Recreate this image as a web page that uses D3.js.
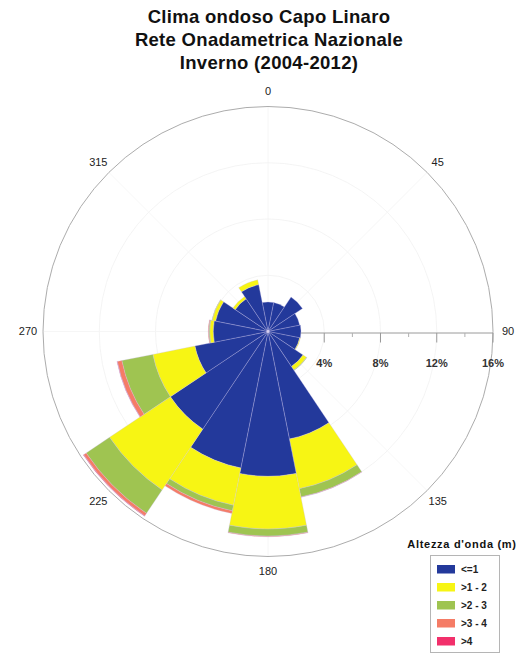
<!DOCTYPE html>
<html>
<head>
<meta charset="utf-8">
<script src="https://cdn.jsdelivr.net/npm/d3@7"></script>
<style>
  body { margin: 0; background: #fff; }
  svg { display: block; font-family: 'Liberation Sans', Arial, sans-serif; }
</style>
</head>
<body>
<div id="chart"></div>
<script>
/* Data (percent of observations per direction sector) */
const directions = [0, 22.5, 45, 67.5, 90, 112.5, 135, 157.5, 180, 202.5, 225, 247.5, 270, 292.5, 315, 337.5];
const h_le1  = [2.1, 2.1, 2.95, 2.3, 2.35, 2.3, 3.0, 7.8, 10.3, 9.9, 8.35, 5.3, 3.9, 3.8, 2.8, 3.4];
const h_1_2  = [0, 0, 0, 0, 0, 0.05, 0.3, 3.6, 3.75, 2.7, 5.2, 3.05, 0.25, 0.25, 0.2, 0.35];
const h_2_3  = [0, 0, 0, 0, 0, 0, 0.03, 0.6, 0.5, 0.4, 2.0, 2.25, 0.06, 0.02, 0, 0];
const h_3_4  = [0, 0, 0, 0, 0, 0, 0, 0.02, 0.05, 0.2, 0.22, 0.33, 0.04, 0, 0, 0];
const h_gt4  = [0, 0, 0, 0, 0, 0, 0, 0, 0, 0, 0.03, 0.02, 0, 0, 0, 0];

const classLabels = ['<=1', '>1 - 2', '>2 - 3', '>3 - 4', '>4'];
const classColors = ['#23399b', '#f7f514', '#9fc451', '#f57c66', '#f2306b'];
const series = [h_le1, h_1_2, h_2_3, h_3_4, h_gt4];

const dirLabels = [0, 45, 90, 135, 180, 225, 270, 315];
const radialTicks = [4, 8, 12, 16];
const minorTicks = [2, 6, 10, 14];
const titleLines = ['Clima ondoso Capo Linaro', 'Rete Onadametrica Nazionale', 'Inverno (2004-2012)'];

/* Layout */
const width = 519, height = 654;
const cx = 268, cy = 331.5, rMax = 225;

const svg = d3.select('#chart').append('svg')
  .attr('width', width)
  .attr('height', height);

const r = d3.scaleLinear().domain([0, 16]).range([0, rMax]);
const rad = (deg) => (deg * Math.PI) / 180;

// Title
svg.append('g')
  .selectAll('text')
  .data(titleLines)
  .join('text')
  .attr('x', 269)
  .attr('y', (d, i) => 23 + i * 22.8)
  .attr('text-anchor', 'middle')
  .attr('font-size', 18.5)
  .attr('font-weight', 'bold')
  .attr('letter-spacing', 0.3)
  .attr('fill', '#111')
  .text((d) => d);

const g = svg.append('g').attr('transform', `translate(${cx},${cy})`);

// Grid (very faint)
g.append('g')
  .selectAll('circle')
  .data([4, 8, 12])
  .join('circle')
  .attr('r', (d) => r(d))
  .attr('fill', 'none')
  .attr('stroke', '#f1f1f1')
  .attr('stroke-width', 0.8);

g.append('g')
  .selectAll('line')
  .data(dirLabels.filter((d) => d !== 90))
  .join('line')
  .attr('x1', 0)
  .attr('y1', 0)
  .attr('x2', (d) => r(16) * Math.sin(rad(d)))
  .attr('y2', (d) => -r(16) * Math.cos(rad(d)))
  .attr('stroke', '#f4f4f4')
  .attr('stroke-width', 0.8);

g.append('circle')
  .attr('r', r(16))
  .attr('fill', 'none')
  .attr('stroke', '#acacac')
  .attr('stroke-width', 1);

// Radial axis at 90
const axis = g.append('g').attr('class', 'radial-axis');
axis.append('line')
  .attr('x1', 0).attr('y1', 1.5)
  .attr('x2', r(16)).attr('y2', 1.5)
  .attr('stroke', '#9a9a9a')
  .attr('stroke-width', 1);
axis.selectAll('line.major')
  .data(radialTicks)
  .join('line')
  .attr('class', 'major')
  .attr('x1', (d) => r(d)).attr('x2', (d) => r(d))
  .attr('y1', 1.5).attr('y2', 11)
  .attr('stroke', '#9a9a9a');
axis.selectAll('line.minor')
  .data(minorTicks)
  .join('line')
  .attr('class', 'minor')
  .attr('x1', (d) => r(d)).attr('x2', (d) => r(d))
  .attr('y1', 1.5).attr('y2', 5.5)
  .attr('stroke', '#b0b0b0');
axis.selectAll('text')
  .data(radialTicks)
  .join('text')
  .attr('x', (d) => r(d))
  .attr('y', 35)
  .attr('text-anchor', 'middle')
  .attr('font-size', 11)
  .attr('font-weight', 'bold')
  .attr('fill', '#333')
  .text((d) => d + '%');

// Stacked sectors
const stacked = [];
directions.forEach((dir, i) => {
  let base = 0;
  series.forEach((s, k) => {
    const v = s[i];
    if (v > 0) {
      stacked.push({ dir: dir, k: k, r0: base, r1: base + v });
    }
    base += v;
  });
});

const arc = d3.arc()
  .innerRadius((d) => r(d.r0))
  .outerRadius((d) => r(d.r1))
  .startAngle((d) => rad(d.dir - 11.25))
  .endAngle((d) => rad(d.dir + 11.25));

g.append('g')
  .selectAll('path')
  .data(stacked)
  .join('path')
  .attr('d', arc)
  .attr('fill', (d) => classColors[d.k])
  .attr('stroke', 'rgba(200,190,235,0.5)')
  .attr('stroke-width', 0.6);

g.append('circle').attr('r', 1.4).attr('fill', '#d8d0f0');

// Direction labels
g.append('g')
  .selectAll('text')
  .data(dirLabels)
  .join('text')
  .attr('x', (d) => 240 * Math.sin(rad(d)))
  .attr('y', (d) => -240 * Math.cos(rad(d)))
  .attr('dy', '0.35em')
  .attr('text-anchor', 'middle')
  .attr('font-size', 11)
  .attr('fill', '#222')
  .text((d) => d);

// Legend
const legend = svg.append('g').attr('class', 'legend');
legend.append('text')
  .attr('x', 462)
  .attr('y', 548)
  .attr('text-anchor', 'middle')
  .attr('font-size', 11)
  .attr('font-weight', 'bold')
  .attr('letter-spacing', 0.7)
  .attr('fill', '#111')
  .text("Altezza d'onda (m)");
legend.append('rect')
  .attr('x', 430.5).attr('y', 555.5)
  .attr('width', 69).attr('height', 97)
  .attr('fill', 'none')
  .attr('stroke', '#b5b5b5');
const rows = legend.selectAll('g.row')
  .data(classLabels)
  .join('g')
  .attr('class', 'row')
  .attr('transform', (d, i) => `translate(437,${565 + i * 18})`);
rows.append('rect')
  .attr('width', 18).attr('height', 8.5)
  .attr('fill', (d, i) => classColors[i]);
rows.append('text')
  .attr('x', 24).attr('y', 4.5)
  .attr('dy', '0.35em')
  .attr('font-size', 10)
  .attr('font-weight', 'bold')
  .attr('fill', '#222')
  .text((d) => d);
</script>
</body>
</html>
